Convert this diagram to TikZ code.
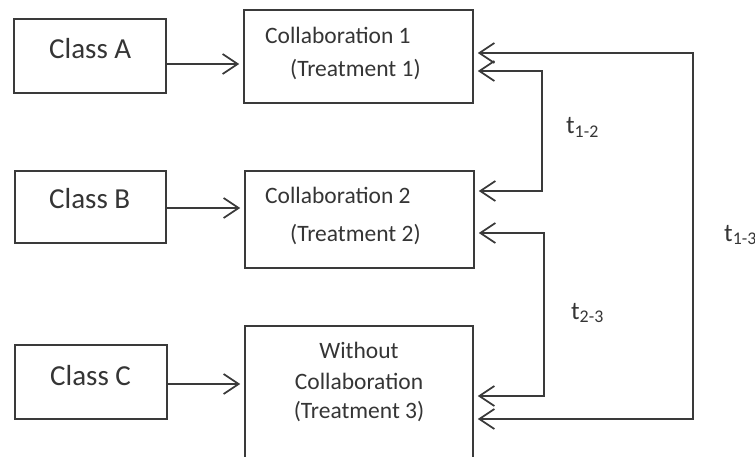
\documentclass[tikz,border=0pt]{standalone}
\usepackage{fontspec}
\setmainfont{Carlito}
\usetikzlibrary{arrows.meta,calc}
\definecolor{ink}{HTML}{3A3A3A}
\definecolor{txt}{HTML}{353535}
\begin{document}
\begin{tikzpicture}[x=1pt,y=-1pt,
  box/.style={draw=ink,line width=1.7pt,inner sep=0pt,fill=none},
  lbl/.style={inner sep=0pt,text=txt,font=\fontsize{23.5}{28}\selectfont},
  tl/.style={inner sep=0pt,text=txt,font=\fontsize{25.5}{30}\selectfont},
  cls/.style={inner sep=0pt,text=txt,font=\fontsize{29}{34}\selectfont},
  barb/.tip={Straight Barb[length=15pt,width=20pt,line width=1.7pt]},
  conn/.style={draw=ink,line width=1.7pt,-barb},
  dbl/.style={draw=ink,line width=1.7pt,barb-barb}]
\fill[white] (0,0) rectangle (755,457);
\useasboundingbox (0,0) rectangle (755,457);
\clip (0,0) rectangle (755,457);
% boxes
\node[box,minimum width=152pt,minimum height=74pt] (ca) at (90,56) {};
\node[box,minimum width=151pt,minimum height=72pt] (cb) at (90.5,207) {};
\node[box,minimum width=152pt,minimum height=74pt] (cc) at (91,382) {};
\node[box,minimum width=229pt,minimum height=93pt] (c1) at (358.5,56.5) {};
\node[box,minimum width=229pt,minimum height=97pt] (c2) at (359.5,219.5) {};
\node[box,minimum width=228pt,minimum height=150pt] (w) at (359,401) {};
% texts
\node[cls,anchor=base west] (ta) at (49,59) {Class A};
\node[cls,anchor=base west] (tb) at (49,209) {Class B};
\node[cls,anchor=base west] (tc) at (50,385) {Class C};
\node[lbl,anchor=base west] (t1a) at (265,44) {Collaboration 1};
\node[lbl,anchor=base west] (t1b) at (290,77) {(Treatment 1)};
\node[lbl,anchor=base west] (t2a) at (265,204) {Collaboration 2};
\node[lbl,anchor=base west] (t2b) at (290,241) {(Treatment 2)};
\node[lbl,anchor=base] (t3a) at (359,358) {Without};
\node[lbl,anchor=base] (t3b) at (359,389) {Collaboration};
\node[lbl,anchor=base] (t3c) at (359,418) {(Treatment 3)};
\node[tl,anchor=base west] (l12) at (566,134) {t\textsubscript{1-2}};
\node[tl,anchor=base west] (l23) at (571,319) {t\textsubscript{2-3}};
\node[tl,anchor=base west] (l13) at (724,241) {t\textsubscript{1-3}};
% class arrows
\draw[conn] (ca.east |- 0,64) -- ([xshift=-4pt]c1.west |- 0,64);
\draw[conn] (cb.east |- 0,208) -- ([xshift=-4pt]c2.west |- 0,208);
\draw[conn] (cc.east |- 0,384) -- ([xshift=-4pt]w.west |- 0,384);
% comparison connectors
\coordinate (k12) at (542,130);
\coordinate (k23) at (544,310);
\coordinate (k13) at (693,240);
\draw[dbl] ([xshift=4pt]c1.east |- 0,71) -| (k12) |- ([xshift=4pt]c2.east |- 0,191);
\draw[dbl] ([xshift=4pt]c2.east |- 0,233) -| (k23) |- ([xshift=4pt]w.east |- 0,396);
\draw[dbl] ([xshift=4pt]c1.east |- 0,53) -| (k13) |- ([xshift=4pt]w.east |- 0,419);
\end{tikzpicture}
\end{document}
